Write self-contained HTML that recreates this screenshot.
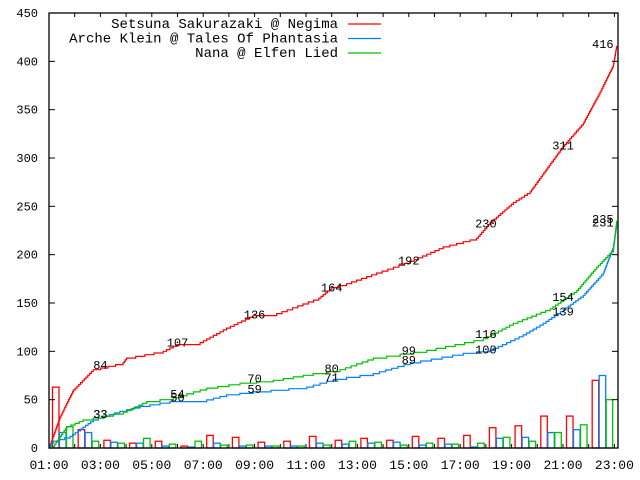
<!DOCTYPE html>
<html><head><meta charset="utf-8"><style>
body{margin:0;background:#fff}
svg{display:block}
text{font-family:"Liberation Mono","DejaVu Sans Mono",monospace;fill:#000}
</style></head><body>
<svg id="chart" width="640" height="480" viewBox="0 0 640 480" xmlns="http://www.w3.org/2000/svg">
<g id="bars"></g>
<g id="lines"></g>
<g id="labels"></g>
<g id="axes"></g>
<g id="legend"></g>
</svg>
<script>
const seriesNames = ["Setsuna Sakurazaki @ Negima","Arche Klein @ Tales Of Phantasia","Nana @ Elfen Lied"];
const seriesColors = ["#ff0000","#0080ff","#00c000"];
const hours = [1,2,3,4,5,6,7,8,9,10,11,12,13,14,15,16,17,18,19,20,21,22];
const redHourly = [63,19,8,5,7,2,13,11,6,7,12,8,10,8,12,10,13,21,23,33,33,70];
const blueHourly = [16,16,6,5,2,1,5,2,2,2,5,4,5,6,3,4,1,10,11,16,19,75];
const greenHourly = [22,7,5,10,4,7,3,3,2,2,3,7,6,3,5,4,5,11,7,16,24,50];
const redT = [1,1.43,1.95,2.72,3.88,4.02,5.44,5.97,6.88,7.91,8.94,9.86,11.5,12.0,12.58,13.75,15.05,16.34,17.64,18.16,19.07,19.72,21.0,21.79,22.44,22.96,23.09];
const redV = [0,32,60,81,88,93,100,107,109,124,137,139,155,166,170,181,193,208,217,233,254,265,312,336,368,396,416];
const blueT = [1,1.17,1.82,2.72,3.76,4.54,5.71,6.88,7.91,8.94,11.03,12.06,13.62,15.05,17.12,18.16,19.45,20.23,21.01,21.79,22.57,22.96,23.09];
const blueV = [0,7,12,29,38,43,48,48,55,58,63,71,77,88,98,101,117,129,143,158,181,208,231];
const greenT = [1,1.17,1.69,2.33,3.89,4.8,5.84,7.14,8.43,9.73,11.28,12.32,13.62,15.7,17.9,19.07,20.5,21.54,22.31,22.96,23.09];
const greenV = [0,2,22,29,37,48,52,62,67,70,77,81,93,101,113,129,144,163,187,205,235];
const labelT = [3,6,9,12,15,18,21,22.55];
const redLabels = [84,107,136,164,192,230,311,416];
const blueLabels = [33,50,59,71,89,100,139,231];
const greenLabels = [33,54,70,80,99,116,154,235];
const yTicks = [0,50,100,150,200,250,300,350,400,450];
const xTicks = [1,3,5,7,9,11,13,15,17,19,21,23];

const L=49,R=618,T=13,B=448;
const X=t=>L+(t-1)*25.7;
const Y=v=>B-v*(B-T)/450;
const NS="http://www.w3.org/2000/svg";
function mk(tag,attrs,parent){const e=document.createElementNS(NS,tag);for(const k in attrs)e.setAttribute(k,attrs[k]);parent.appendChild(e);return e;}
const gB=document.getElementById('bars'),gL=document.getElementById('lines'),gT=document.getElementById('labels'),gA=document.getElementById('axes'),gG=document.getElementById('legend');

[redHourly,blueHourly,greenHourly].forEach((arr,s)=>{
  arr.forEach((v,i)=>{
    const x=X(hours[i])+3+s*7;
    const r=mk('rect',{x:x+0.5,y:Y(v),width:6.5,height:B-Y(v),fill:'none',stroke:seriesColors[s],'stroke-width':1.3},gB);
    
    
  });
});

[[redT,redV],[blueT,blueV],[greenT,greenV]].forEach(([ts,vs],s)=>{
  let d='M'+X(ts[0])+','+Y(vs[0]);
  for(let i=1;i<ts.length;i++){
    const x0=X(ts[i-1]),x1=X(ts[i]),v0=vs[i-1],v1=vs[i];
    const n=Math.max(1,Math.round(Math.abs(v1-v0)/2));
    for(let k=1;k<=n;k++){const xx=x0+(x1-x0)*k/n;const vv=v0+(v1-v0)*k/n;d+=' H'+xx.toFixed(1)+' V'+Y(vv).toFixed(1);}
  }
  const p=mk('path',{d:d,fill:'none',stroke:seriesColors[s],'stroke-width':1.2},gL);
  
  
});

[redLabels,blueLabels,greenLabels].forEach(arr=>{
  arr.forEach((v,i)=>{
    const t=mk('text',{x:X(labelT[i]),y:Y(v)+2,'text-anchor':'middle','font-size':12},gT);
    t.textContent=v;
    
    
  });
});

const fr=mk('rect',{x:L,y:T,width:R-L,height:B-T,fill:'none',stroke:'#000','stroke-width':1.3},gA);


yTicks.forEach(v=>{
  mk('line',{x1:L,x2:L+6,y1:Y(v),y2:Y(v),stroke:'#000'},gA);
  mk('line',{x1:R-6,x2:R,y1:Y(v),y2:Y(v),stroke:'#000'},gA);
  const t=mk('text',{x:38,y:Y(v)+4,'text-anchor':'end','font-size':12},gA);
  t.textContent=v;
  
  
});
hours.concat([23]).forEach(h=>{
  mk('line',{x1:X(h),x2:X(h),y1:B,y2:B-4,stroke:'#000'},gA);
  mk('line',{x1:X(h),x2:X(h),y1:T,y2:T+4,stroke:'#000'},gA);
});
xTicks.forEach(h=>{
  const t=mk('text',{x:X(h),y:469,'text-anchor':'middle','font-size':13},gA);
  t.textContent=(h<10?'0':'')+h+':00';
  
  
});

seriesNames.forEach((n,s)=>{
  const y=24+s*14.5;
  const t=mk('text',{x:338,y:y+4,'text-anchor':'end','font-size':14},gG);
  t.textContent=n;
  
  
  mk('line',{x1:348,x2:381,y1:y,y2:y,stroke:seriesColors[s],'stroke-width':1.3},gG);
});
</script>
</body></html>
